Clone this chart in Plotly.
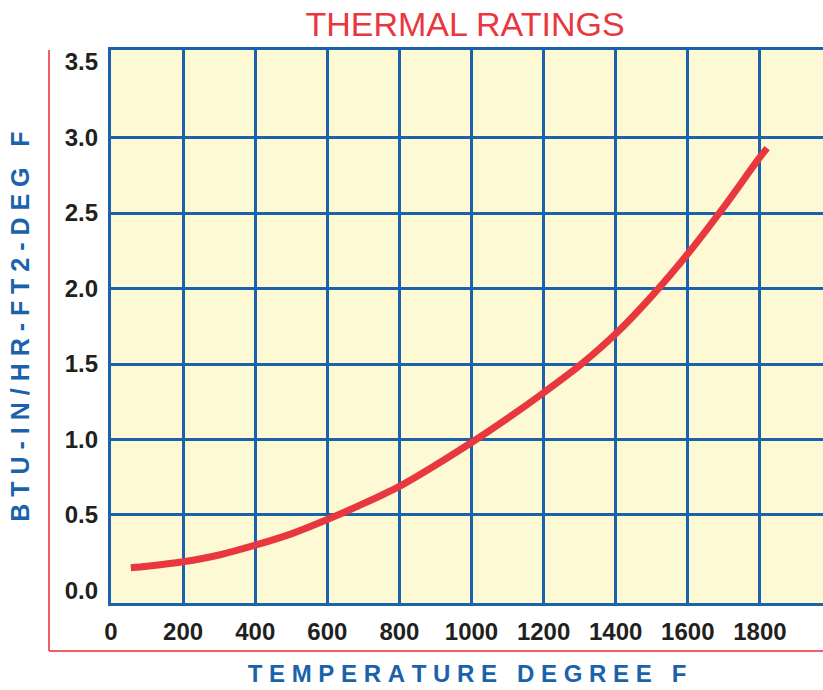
import plotly.graph_objects as go

# Data
temperature_f = [55, 100, 200, 300, 400, 500, 600, 700, 800, 900, 1000,
                 1100, 1200, 1300, 1400, 1500, 1600, 1700, 1800, 1820]
rating = [0.15, 0.16, 0.19, 0.235, 0.30, 0.375, 0.47, 0.575, 0.69, 0.83, 0.98,
          1.14, 1.31, 1.49, 1.70, 1.95, 2.23, 2.54, 2.87, 2.93]

x_ticks = [0, 200, 400, 600, 800, 1000, 1200, 1400, 1600, 1800]
x_tick_labels = [str(v) for v in x_ticks]
y_ticks = [0.0, 0.5, 1.0, 1.5, 2.0, 2.5, 3.0, 3.5]
y_tick_labels = ["%.1f" % v for v in y_ticks]
y_grid = [0.5, 1.0, 1.5, 2.0, 2.5, 3.0]

BLUE = "#1b62ad"
RED = "#e9373f"
FRAME_RED = "#ef6166"
BG = "#fdf9d5"
TICK_COL = "#231f20"
FONT = "Liberation Sans, Arial, sans-serif"

x_range = [0, 1975]
y_range = [-0.083, 3.58]

W, H = 823, 690

NB = "\u00a0"
def spaced(text, word_gap=3):
    words = text.split(" ")
    return (NB * word_gap).join(NB.join(list(w)) for w in words)

fig = go.Figure()
fig.add_trace(go.Scatter(
    x=temperature_f, y=rating, mode="lines",
    line=dict(color=RED, width=7, shape="spline", smoothing=0.8),
    showlegend=False, hoverinfo="x+y"))
fig.add_trace(go.Scatter(x=[], y=[], yaxis="y2", showlegend=False))

fig.update_layout(
    width=W, height=H,
    margin=dict(l=111, r=0, t=50, b=87, pad=0),
    paper_bgcolor="white", plot_bgcolor=BG,
    title=dict(text="THERMAL RATINGS", x=465 / W, xanchor="center",
               y=1 - 24 / H, yanchor="middle", yref="container",
               font=dict(family=FONT, size=34, color=RED)),
    xaxis=dict(range=x_range, tickvals=x_ticks, ticktext=x_tick_labels,
               showgrid=True, gridcolor=BLUE, gridwidth=2.5,
               showline=True, linecolor=BLUE, linewidth=3, mirror=True,
               zeroline=False, ticks="", ticklabelstandoff=5,
               tickfont=dict(family=FONT, size=24, color=TICK_COL, weight="bold"),
               title=dict(text=spaced("TEMPERATURE DEGREE F"), standoff=22,
                          font=dict(family=FONT, size=24, color=BLUE, weight="bold")),
               automargin=False, fixedrange=True),
    yaxis=dict(range=y_range, tickvals=y_grid, showticklabels=False,
               showgrid=True, gridcolor=BLUE, gridwidth=2.5,
               showline=True, linecolor=BLUE, linewidth=3, mirror=False,
               zeroline=False, ticks="", automargin=False, fixedrange=True),
    yaxis2=dict(range=y_range, overlaying="y", side="left",
                tickvals=y_ticks, ticktext=y_tick_labels,
                showgrid=False, showline=False, zeroline=False, ticks="",
                ticklabelstandoff=12,
                tickfont=dict(family=FONT, size=24, color=TICK_COL, weight="bold"),
                title=dict(text=spaced("BTU-IN/HR-FT2-DEG F"), standoff=27,
                           font=dict(family=FONT, size=25, color=BLUE, weight="bold")),
                automargin=False, fixedrange=True),
    shapes=[
        dict(type="line", xref="paper", yref="paper",
             x0=-62 / 712, x1=-62 / 712, y0=1.0, y1=-48 / 553,
             line=dict(color=FRAME_RED, width=2)),
        dict(type="line", xref="paper", yref="paper",
             x0=-62 / 712, x1=1.0, y0=-48 / 553, y1=-48 / 553,
             line=dict(color=FRAME_RED, width=2)),
    ],
)

fig.write_html("out.html",
               config={"displayModeBar": False},
               post_script="document.body.style.margin='0';"
                           "document.body.style.overflow='hidden';")
